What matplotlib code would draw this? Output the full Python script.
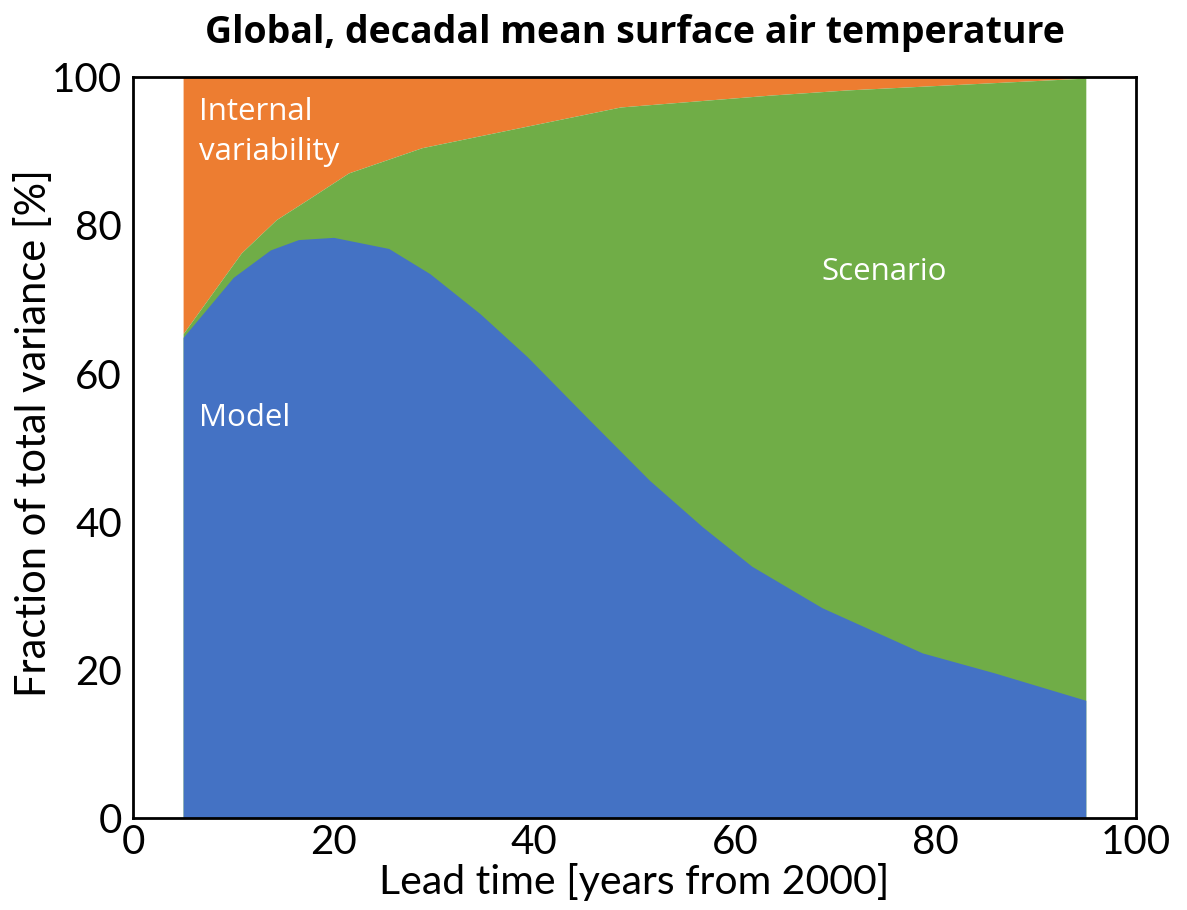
import matplotlib
matplotlib.use("Agg")
import matplotlib.pyplot as plt

# Model contribution (% of total variance)
model_lead = [5, 10, 13.7, 16.5, 20, 25.5, 29.6, 34.6, 39.3, 45.4, 51.5, 56.8, 61.7, 68.7, 78.7, 85.9, 95]
model_pct = [64.9, 73.0, 76.7, 78.1, 78.4, 76.9, 73.5, 68.1, 62.3, 53.9, 45.6, 39.3, 34.0, 28.4, 22.3, 19.6, 15.9]

# Model + scenario cumulative (% of total variance); remainder is internal variability
cum_lead = [5, 10.8, 14.3, 17.3, 21.5, 28.8, 48.6, 63.5, 71.2, 95]
cum_pct = [65.4, 76.3, 80.8, 83.4, 87.1, 90.5, 96.0, 97.6, 98.3, 99.9]

x_ticks = [0, 20, 40, 60, 80, 100]
y_ticks = [0, 20, 40, 60, 80, 100]

BLUE = "#4472C4"
GREEN = "#70AD47"
ORANGE = "#ED7D31"

fig = plt.figure(figsize=(11.87, 9.10), dpi=100)
ax = fig.add_axes([0.112, 0.101, 0.845, 0.814])

ax.fill_between(cum_lead, cum_pct, 100, color=ORANGE, linewidth=0)
ax.fill_between(cum_lead, 0, cum_pct, color=GREEN, linewidth=0)
ax.fill_between(model_lead, 0, model_pct, color=BLUE, linewidth=0)

ax.set_xlim(0, 100)
ax.set_ylim(0, 100)
ax.set_xticks(x_ticks)
ax.set_yticks(y_ticks)
ax.tick_params(axis="y", length=0, labelsize=29, pad=8)
ax.tick_params(axis="x", length=0, labelsize=29, pad=4)
for lab in ax.get_xticklabels() + ax.get_yticklabels():
    lab.set_family("Lato")
for s in ax.spines.values():
    s.set_linewidth(2)
    s.set_color("black")

ax.set_xlabel("Lead time [years from 2000]", fontsize=29.5, family="Lato")
ax.xaxis.set_label_coords(0.5, -0.061)
ax.set_ylabel("Fraction of total variance [%]", fontsize=30, family="Lato")
ax.yaxis.set_label_coords(-0.08, 0.52)
ax.set_title("Global, decadal mean surface air temperature", fontsize=27,
             family="Open Sans", fontweight="bold", pad=25)

ax.text(6.6, 92.6, "Internal\nvariability", color="white", fontsize=22.5,
        family="Open Sans", va="center", ha="left", linespacing=1.45)
ax.text(68.6, 73.7, "Scenario", color="white", fontsize=22.5,
        family="Open Sans", va="center", ha="left")
ax.text(6.6, 54, "Model", color="white", fontsize=22.5,
        family="Open Sans", va="center", ha="left")

fig.savefig("out.png", dpi=100)
